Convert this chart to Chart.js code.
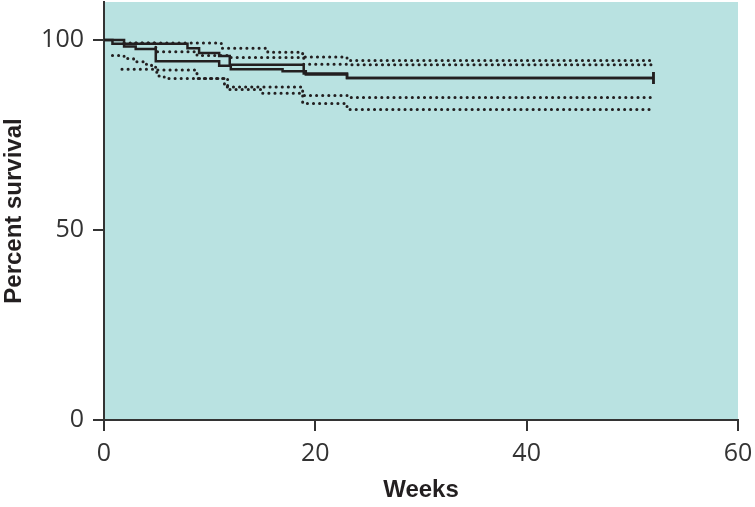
<!DOCTYPE html>
<html>
<head>
<meta charset="utf-8">
<script src="https://cdn.jsdelivr.net/npm/chart.js@4"></script>
<style>
  html, body { margin: 0; padding: 0; background: #fff; }
  canvas { display: block; }
</style>
</head>
<body>
<canvas id="survivalChart" width="755" height="507"></canvas>
<script>
// --- data (weeks / percent survival) ---
const weeksA = [0, 1.9, 3.0, 4.9, 10.9, 12.0, 16.9, 19.1, 23.0, 52];
const survA  = [100, 98.3, 97.6, 94.4, 93.2, 92.3, 91.8, 90.9, 90.0, 90.0];

const weeksB = [0, 0.8, 7.9, 9.0, 10.9, 11.9, 18.9, 23.0, 52];
const survB  = [100, 99.0, 97.8, 96.6, 95.8, 93.5, 91.2, 90.0, 90.0];

// confidence bands (dotted)
const weeksUpper1 = [1.9, 11.1, 15.5, 18.8, 23.0, 52];
const upper1      = [99.2, 97.8, 96.8, 95.5, 94.6, 94.6];
const weeksUpper2 = [3.0, 4.9, 8.8, 11.8, 18.9, 23.0, 52];
const upper2      = [99.2, 96.9, 95.9, 95.4, 93.6, 93.5, 93.5];
const weeksLower1 = [0.8, 1.9, 2.8, 3.8, 4.5, 4.9, 5.2, 5.7, 11.4, 18.8, 23.0, 52];
const lower1      = [95.9, 95.1, 94.3, 93.6, 92.8, 91.5, 90.5, 89.9, 87.6, 85.4, 84.9, 84.9];
const weeksLower2 = [1.7, 4.7, 8.8, 11.7, 14.9, 18.8, 23.0, 52];
const lower2      = [92.3, 92.1, 89.9, 87.0, 86.0, 83.3, 81.7, 81.7];

// axes
const xTickValues = [0, 20, 40, 60];
const yTickValues = [0, 50, 100];
const xTitle = 'Weeks';
const yTitle = 'Percent survival';

const ink = '#231f20';
const axisInk = '#333333';
const plotFill = '#b9e2e1';

const toPoints = (xs, ys) => xs.map((x, i) => ({ x: x, y: ys[i] }));
const lastOnly = (n, v) => Array.from({ length: n }, (_, i) => i === n - 1 ? v : 0);

function solidSet(xs, ys) {
    return {
        data: toPoints(xs, ys),
        stepped: true,
        borderColor: ink,
        borderWidth: 2.5,
        pointRadius: lastOnly(xs.length, 6),
        pointStyle: 'line',
        rotation: 90,
        pointBorderColor: ink,
        pointBorderWidth: 2.5,
        fill: false
    };
}
function dottedSet(xs, ys) {
    return {
        data: toPoints(xs, ys),
        stepped: true,
        borderColor: ink,
        borderWidth: 3,
        borderDash: [0.1, 6],
        borderCapStyle: 'round',
        pointRadius: 0,
        fill: false
    };
}

// fond teal de la zone de tracé
const plotBackground = {
    id: 'plotBackground',
    beforeDraw(chart) {
        const { ctx, chartArea: a } = chart;
        ctx.save();
        ctx.fillStyle = plotFill;
        ctx.fillRect(a.left, a.top, a.right - a.left, a.bottom - a.top);
        ctx.restore();
    }
};

// pas de marge automatique autour des étiquettes
function noPadding(s) {
    s.paddingTop = 0; s.paddingBottom = 0; s.paddingLeft = 0; s.paddingRight = 0;
}

const titleFont = { family: 'Liberation Sans', size: 24, weight: 'bold' };
const tickFont = { family: 'Open Sans', size: 25 };

new Chart(document.getElementById('survivalChart'), {
    type: 'line',
    data: {
        datasets: [
            dottedSet(weeksUpper1, upper1),
            dottedSet(weeksUpper2, upper2),
            dottedSet(weeksLower1, lower1),
            dottedSet(weeksLower2, lower2),
            solidSet(weeksA, survA),
            solidSet(weeksB, survB)
        ]
    },
    options: {
        responsive: false,
        animation: false,
        layout: { autoPadding: false, padding: { top: 2, right: 17, bottom: 0, left: 0 } },
        plugins: { legend: { display: false }, tooltip: { enabled: false } },
        scales: {
            x: {
                type: 'linear',
                min: 0,
                max: 60,
                afterBuildTicks: s => { s.ticks = xTickValues.map(v => ({ value: v })); },
                afterFit: s => { s.height = 87; noPadding(s); },
                border: { display: true, color: axisInk, width: 2 },
                grid: { drawOnChartArea: false, drawTicks: true, tickLength: 11, color: axisInk, lineWidth: 2 },
                ticks: { color: axisInk, padding: 8, maxRotation: 0, font: tickFont },
                title: {
                    display: true, text: xTitle, color: ink, font: titleFont,
                    padding: { top: 0, bottom: 2 }
                }
            },
            y: {
                type: 'linear',
                min: 0,
                max: 110,
                afterBuildTicks: s => { s.ticks = yTickValues.map(v => ({ value: v })); },
                afterFit: s => { s.width = 104; noPadding(s); },
                border: { display: true, color: axisInk, width: 2 },
                grid: { drawOnChartArea: false, drawTicks: true, tickLength: 11, color: axisInk, lineWidth: 2 },
                ticks: { color: axisInk, padding: 9, font: tickFont },
                title: {
                    display: true, text: yTitle, color: ink, font: titleFont,
                    padding: { top: 0, bottom: 0 }
                }
            }
        }
    },
    plugins: [plotBackground]
});
</script>
</body>
</html>
